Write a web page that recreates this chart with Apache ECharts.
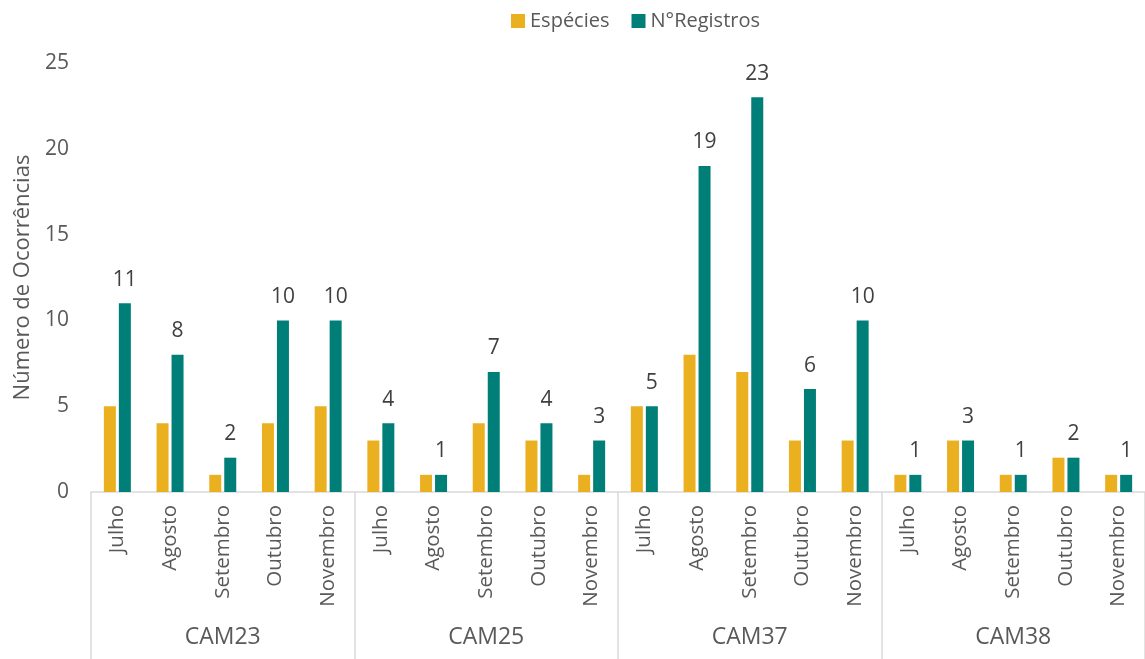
<!DOCTYPE html>
<html>
<head>
<meta charset="utf-8">
<script src="https://cdn.jsdelivr.net/npm/echarts@6/dist/echarts.min.js"></script>
<style>
  html, body { margin: 0; padding: 0; background: #fff; }
  #chart { width: 1145px; height: 659px; }
</style>
</head>
<body>
<div id="chart"></div>
<script>
const groups = ['CAM23', 'CAM25', 'CAM37', 'CAM38']
const months = ['Julho', 'Agosto', 'Setembro', 'Outubro', 'Novembro']
const especies = [5, 4, 1, 4, 5, 3, 1, 4, 3, 1, 5, 8, 7, 3, 3, 1, 3, 1, 2, 1]
const registros = [11, 8, 2, 10, 10, 4, 1, 7, 4, 3, 5, 19, 23, 6, 10, 1, 3, 1, 2, 1]
const yTicks = [0, 5, 10, 15, 20, 25]

// one month label per bar pair, repeated for each camera
const monthCats = groups.flatMap(() => months)

const fontFam = '"Open Sans", "Noto Sans", sans-serif'
const textColor = '#595959'
const lineColor = '#d9d9d9'

const chart = echarts.init(document.getElementById('chart'))

chart.setOption({
  animation: false,
  textStyle: { fontFamily: fontFam },
  legend: {
    top: 6,
    left: 506,
    icon: 'rect',
    itemWidth: 14,
    itemHeight: 14,
    itemGap: 22,
    textStyle: { fontSize: 20, color: textColor, fontFamily: fontFam },
    data: ['Espécies', 'N°Registros'],
  },
  grid: { left: 91, top: 63, width: 1060, height: 429 },
  xAxis: [
    {
      type: 'category',
      data: monthCats,
      axisLine: { lineStyle: { color: lineColor, width: 1.5 } },
      axisTick: { show: false },
      axisLabel: {
        interval: 0,
        rotate: 90,
        margin: 13,
        fontSize: 20.5,
        color: textColor,
        fontFamily: fontFam,
      },
    },
    {
      type: 'category',
      position: 'bottom',
      data: groups,
      axisLine: { show: false },
      axisTick: {
        show: true,
        interval: 0,
        length: 167,
        lineStyle: { color: lineColor, width: 1.5 },
      },
      axisLabel: {
        interval: 0,
        margin: 134,
        fontSize: 23,
        color: textColor,
        fontFamily: fontFam,
      },
    },
  ],
  yAxis: {
    type: 'value',
    min: yTicks[0],
    max: yTicks[yTicks.length - 1],
    interval: 5,
    name: 'Número de Ocorrências',
    nameLocation: 'middle',
    nameGap: 56,
    nameRotate: 90,
    nameTextStyle: { fontSize: 22, color: textColor, fontFamily: fontFam },
    axisLine: { show: false },
    axisTick: { show: false },
    splitLine: { show: false },
    axisLabel: { fontSize: 21, color: textColor, margin: 22, fontFamily: fontFam },
  },
  series: [
    {
      name: 'Espécies',
      type: 'bar',
      xAxisIndex: 0,
      data: especies,
      barWidth: 12,
      barGap: '25%',
      itemStyle: { color: '#EBB020' },
    },
    {
      name: 'N°Registros',
      type: 'bar',
      xAxisIndex: 0,
      data: registros,
      barWidth: 12,
      barGap: '25%',
      itemStyle: { color: '#007F78' },
      label: {
        show: true,
        position: 'top',
        distance: 13,
        fontSize: 21,
        color: '#404040',
        fontFamily: fontFam,
      },
    },
  ],
})
</script>
</body>
</html>
